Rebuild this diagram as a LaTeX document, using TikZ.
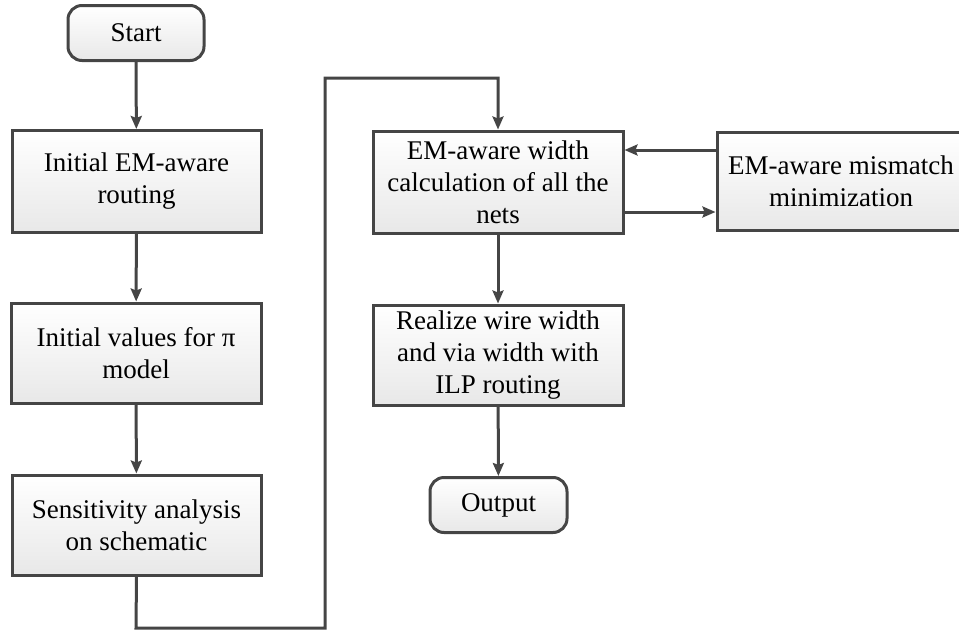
\documentclass[tikz,border=0pt]{standalone}
\usepackage{fontspec}
\setmainfont{Liberation Serif}
\usetikzlibrary{arrows.meta}
\definecolor{edge}{HTML}{454545}
\tikzset{
  every node/.style={font=\fontsize{27}{32}\selectfont, text=black},
  procbox/.style={draw=edge, line width=3pt, rectangle, align=center,
    top color=white, bottom color=gray!18, inner sep=0pt},
  termbox/.style={procbox, rounded corners=14pt},
  flow/.style={draw=edge, line width=3pt,
    -{Stealth[length=13pt,width=11pt,inset=2pt]}},
}
\begin{document}
\begin{tikzpicture}[x=1pt,y=-1pt]
  \useasboundingbox (0,0) rectangle (959,632);
  \clip (0,0) rectangle (959,632);

  % left column
  \node[termbox, minimum width=136pt, minimum height=55pt] (start) at (136,33) {Start};
  \node[procbox, minimum width=249pt, minimum height=102pt] (route) at (136.5,181.5) {Initial EM-aware\\routing};
  \node[procbox, minimum width=250pt, minimum height=100pt] (init) at (136,353) {Initial values for π\\model};
  \node[procbox, minimum width=249pt, minimum height=100pt] (sens) at (136.5,525) {Sensitivity analysis\\on schematic};

  % middle column
  \node[procbox, minimum width=250pt, minimum height=102pt] (calc) at (498,182) {EM-aware width\\calculation of all the\\nets};
  \node[procbox, minimum width=250pt, minimum height=100pt] (real) at (498,355) {Realize wire width\\and via width with\\ILP routing};
  \node[termbox, minimum width=137pt, minimum height=55pt] (out) at (498.5,505) {Output};

  % right column
  \node[procbox, minimum width=248pt, minimum height=98pt] (mism) at (841,181) {EM-aware mismatch\\minimization};

  % connectors
  \coordinate (c1) at (136,628);
  \coordinate (c2) at (325,628);
  \coordinate (c3) at (325,78);
  \coordinate (c4) at (498,78);

  \draw[flow] (start) -- (route);
  \draw[flow] (route) -- (init);
  \draw[flow] (init) -- (sens);
  \draw[flow, rounded corners=0pt] (sens.south) -- (c1) -- (c2) -- (c3) -- (c4) -- (calc.north);
  \draw[flow] (calc) -- (real);
  \draw[flow] (real) -- (out);
  \draw[flow] (mism.west |- 0,150) -- (calc.east |- 0,150);
  \draw[flow] (calc.east |- 0,212) -- (mism.west |- 0,212);
\end{tikzpicture}
\end{document}
